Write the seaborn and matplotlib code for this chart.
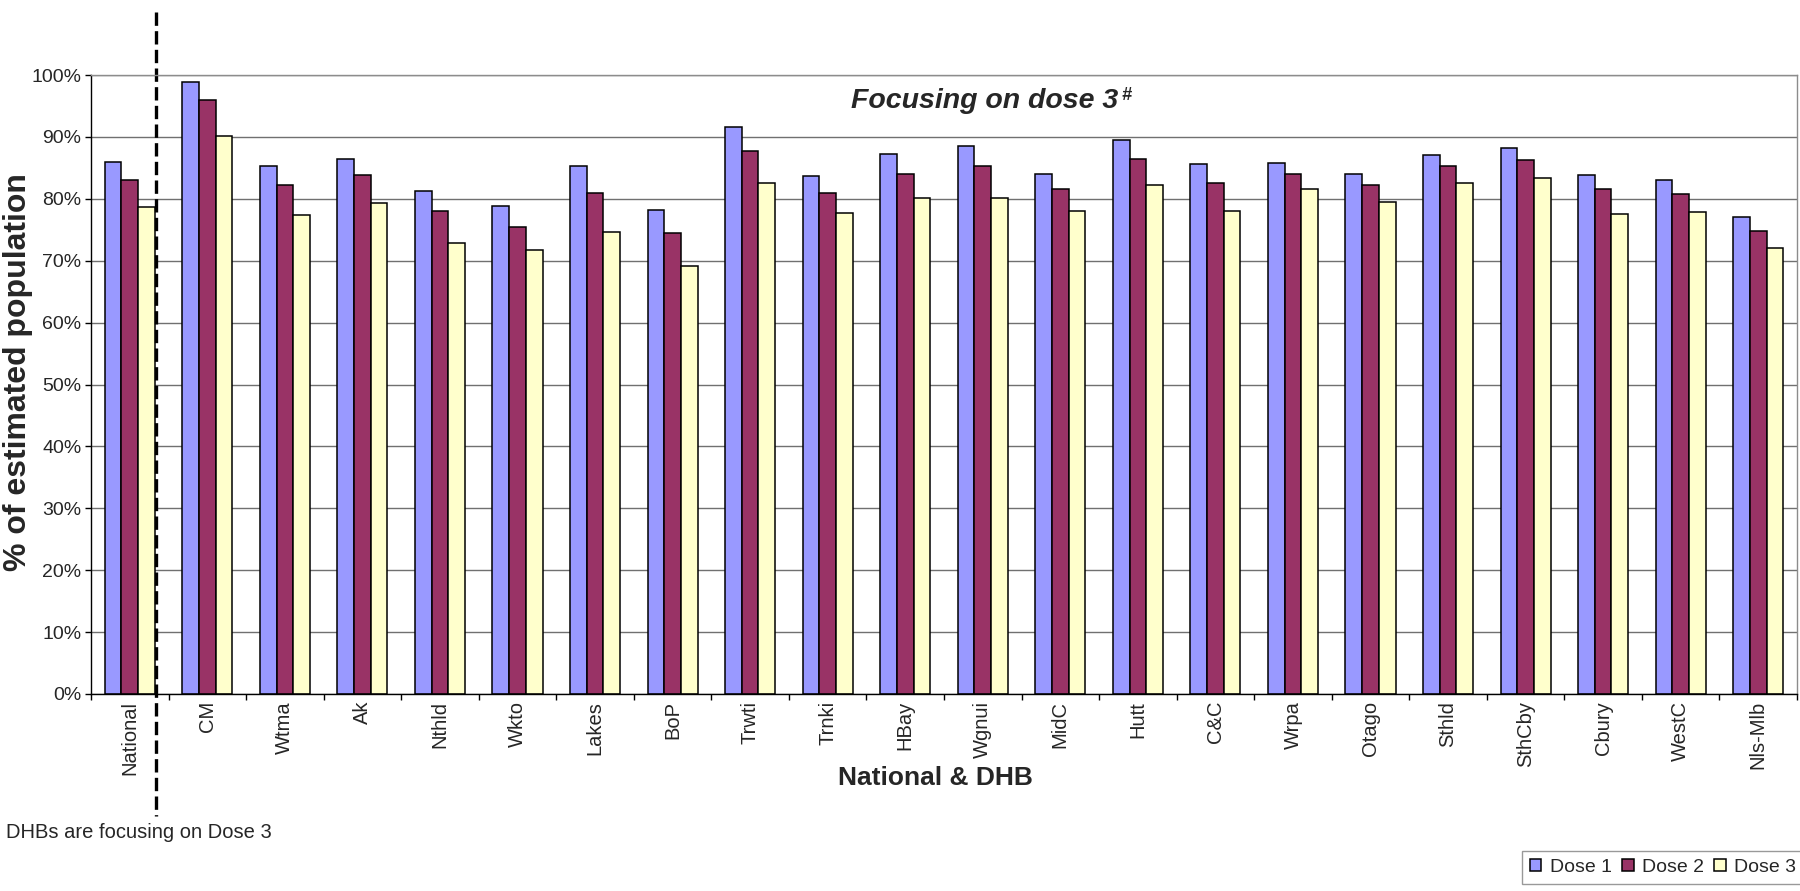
import pandas as pd
import seaborn as sns
import matplotlib.pyplot as plt
from matplotlib.ticker import PercentFormatter, MultipleLocator, FixedLocator
from matplotlib.transforms import blended_transform_factory


# Данные: охват по дозам (% от оценочной численности населения)
regions = ['National', 'CM', 'Wtma', 'Ak', 'Nthld', 'Wkto', 'Lakes', 'BoP', 'Trwti', 'Trnki', 'HBay',
           'Wgnui', 'MidC', 'Hutt', 'C&C', 'Wrpa', 'Otago', 'Sthld', 'SthCby', 'Cbury', 'WestC', 'Nls-Mlb']
dose1 = [85.9, 98.9, 85.3, 86.5, 81.3, 78.8, 85.3, 78.2, 91.6, 83.7, 87.3,
         88.5, 84.0, 89.5, 85.6, 85.8, 84.0, 87.1, 88.2, 83.9, 83.0, 77.0]
dose2 = [83.1, 95.9, 82.3, 83.8, 78.0, 75.5, 81.0, 74.4, 87.7, 81.0, 84.0,
         85.3, 81.6, 86.5, 82.6, 84.0, 82.2, 85.3, 86.3, 81.6, 80.8, 74.8]
dose3 = [78.6, 90.1, 77.4, 79.3, 72.8, 71.7, 74.7, 69.2, 82.6, 77.7, 80.1,
         80.1, 78.0, 82.2, 78.0, 81.6, 79.5, 82.6, 83.3, 77.6, 77.9, 72.1]
dose_names = ['Dose 1', 'Dose 2', 'Dose 3']
colors = ['#9999FF', '#993366', '#FFFFCC']

data = pd.DataFrame({'Region': regions * 3,
                     'Coverage': dose1 + dose2 + dose3,
                     'Dose': [d for d in dose_names for _ in regions]})

sns.set_theme(style='white')
plt.rcParams['font.family'] = ['Liberation Sans', 'DejaVu Sans']

fig = plt.figure(figsize=(18, 8.91), dpi=100)
ax = fig.add_axes([91 / 1800, 1 - 694 / 891, (1797 - 91) / 1800, (694 - 75) / 891])

sns.barplot(data=data, x='Region', y='Coverage', hue='Dose', palette=colors, saturation=1,
            width=0.645, edgecolor='black', linewidth=1.1, errorbar=None, ax=ax)

# Оси
ax.set_ylim(0, 100)
ax.set_xlim(-0.5, len(regions) - 0.5)
ax.yaxis.set_major_locator(MultipleLocator(10))
ax.yaxis.set_major_formatter(PercentFormatter(100, decimals=0))
ax.yaxis.grid(True, color='#707070', linewidth=1.0)
ax.set_axisbelow(True)
ax.tick_params(axis='y', which='major', left=True, length=4, width=1, color='black',
               labelsize=14, pad=3)
ax.tick_params(axis='x', which='major', length=0, labelsize=14.5, pad=5, rotation=90)
ax.xaxis.set_minor_locator(FixedLocator([i - 0.5 for i in range(len(regions) + 1)]))
ax.tick_params(axis='x', which='minor', bottom=True, length=4.5, width=1, color='black')

for side in ['left', 'bottom']:
    ax.spines[side].set_color('black')
    ax.spines[side].set_linewidth(1.0)
for side in ['top', 'right']:
    ax.spines[side].set_color('#8c8c8c')
    ax.spines[side].set_linewidth(1.0)

ax.set_xlabel('National & DHB', fontsize=19, fontweight='bold')
ax.xaxis.set_label_coords(0.495, -(766 - 694) / 619)
ax.set_ylabel('% of estimated population', fontsize=23, fontweight='bold', va='center')
ax.yaxis.set_label_coords(-(91 - 18) / 1706, 0.52)

# Заголовок внутри области графика
t = ax.text(0.524, 0.958, 'Focusing on dose 3', transform=ax.transAxes, ha='center', va='center',
            fontsize=20.5, fontweight='bold', style='italic')
ax.annotate('#', xy=(1.0, 1.02), xycoords=t, ha='left', va='top', xytext=(2, 0),
            textcoords='offset points', fontsize=13, fontweight='bold', style='italic')

# Пунктирная линия между National и DHB
tr = blended_transform_factory(ax.transData, fig.transFigure)
ax.plot([0.34, 0.34], [1 - 12 / 891, 1 - 816 / 891], transform=tr, color='black',
        linewidth=2.4, linestyle=(0, (4, 1.6)), clip_on=False)

fig.text(6 / 1800, 1 - 832 / 891, 'DHBs are focusing on Dose 3', ha='left', va='center', fontsize=14.5)

# Легенда внизу справа
handles, labels = ax.get_legend_handles_labels()
ax.get_legend().remove()
leg = fig.legend(handles, labels, loc='upper left', bbox_to_anchor=(1522 / 1800, 1 - 851 / 891),
                 bbox_transform=fig.transFigure, ncol=3, fontsize=14, frameon=True, fancybox=False,
                 edgecolor='#808080', handlelength=0.6, handleheight=0.6, handletextpad=0.45,
                 columnspacing=0.5, borderpad=0.4, borderaxespad=0)
leg.get_frame().set_linewidth(1.0)

fig.savefig('out.png', dpi=100)
